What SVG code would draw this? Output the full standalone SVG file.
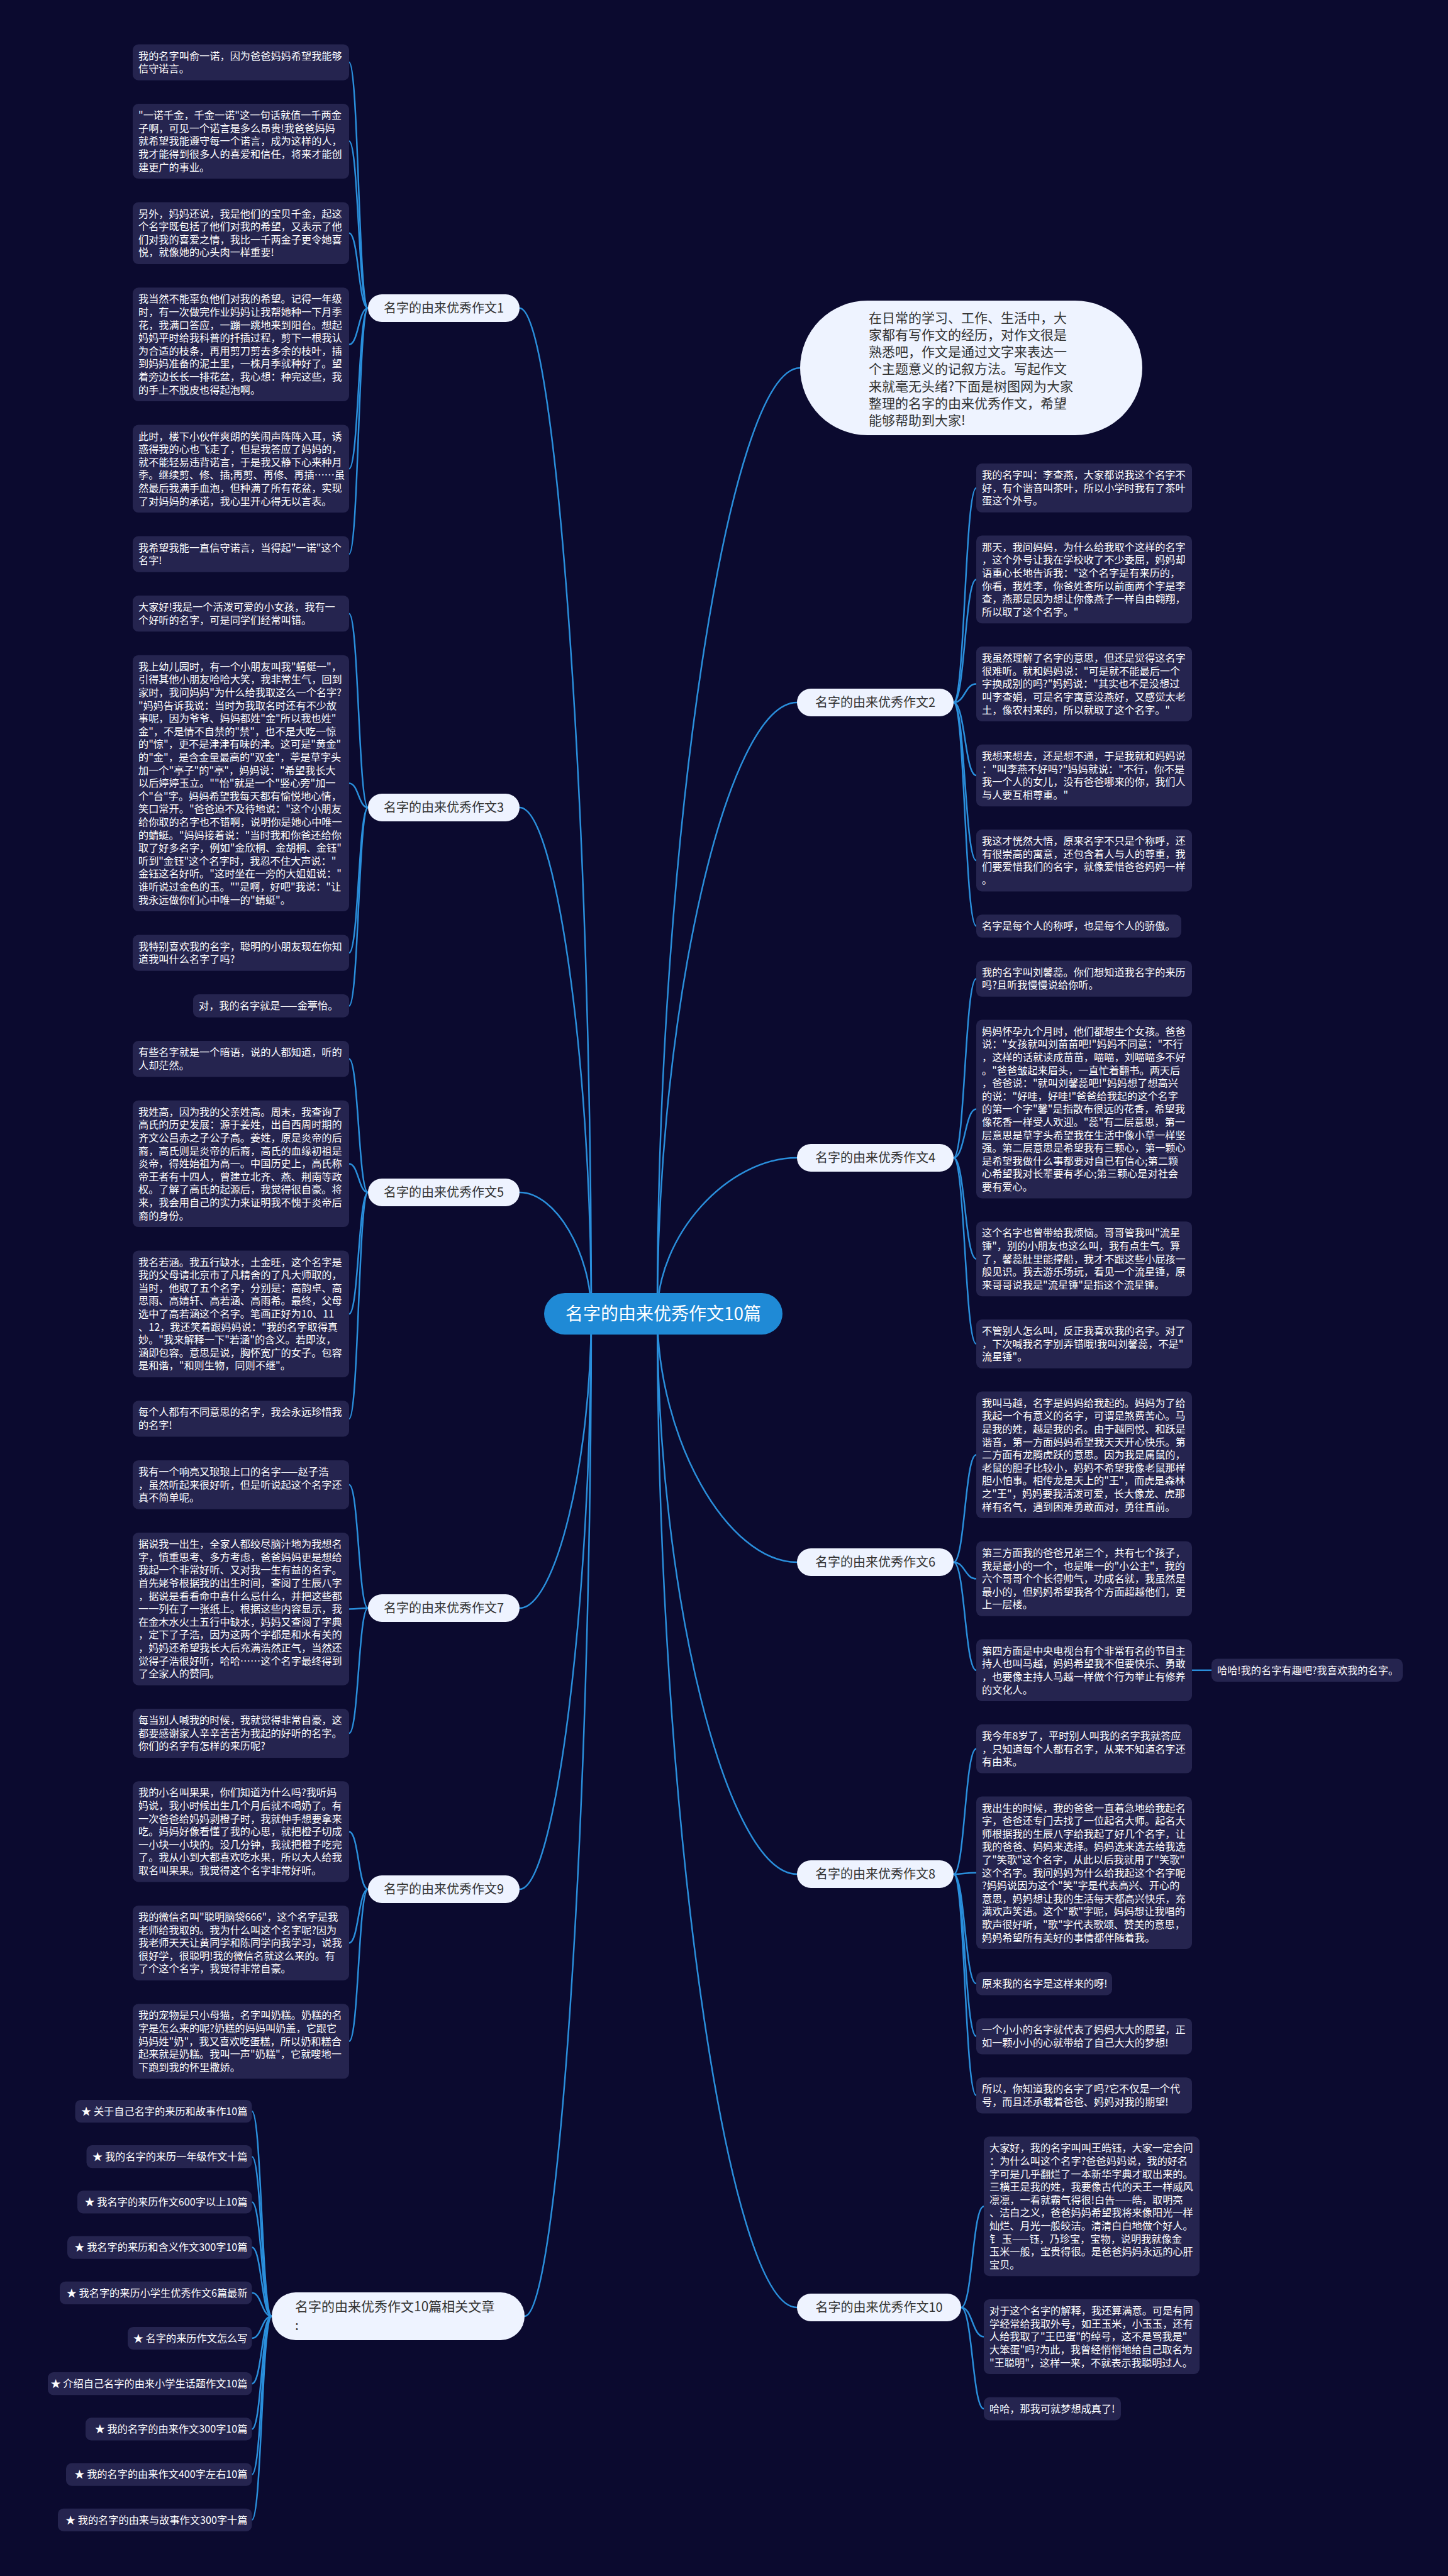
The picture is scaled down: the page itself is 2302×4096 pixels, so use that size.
<svg xmlns="http://www.w3.org/2000/svg" width="2302" height="4096" viewBox="0 0 2302 4096">
<style>
.box{fill:#25244f}
.t{font-family:"Noto Sans CJK SC","Microsoft YaHei",sans-serif;font-size:16.2px;fill:#ffffff}
.c{fill:none;stroke:#2a8fdc;stroke-width:2.5}
.pill{fill:#eef3ff}
.nt{font-family:"Noto Sans CJK SC","Microsoft YaHei",sans-serif;font-size:20px;fill:#333333;text-anchor:middle}
.it{font-family:"Noto Sans CJK SC","Microsoft YaHei",sans-serif;font-size:16.2px;fill:#ffffff;text-anchor:end}
</style>
<rect x="0" y="0" width="2302" height="4096" fill="#0b0a2f"/>
<g id="connectors">
<path class="c" d="M940,2089 C940,1289.5 883,490 826,490"/>
<path class="c" d="M940,2089 C940,1686.5 883,1284 826,1284"/>
<path class="c" d="M940,2089 C940,1992.5 883,1896 826,1896"/>
<path class="c" d="M940,2089 C940,2323 883,2557 826,2557"/>
<path class="c" d="M940,2089 C940,2546.5 883,3004 826,3004"/>
<path class="c" d="M940,2089 C940,2886 887,3683 834,3683"/>
<path class="c" d="M1045,2089 C1045,1337 1158.5,585 1272,585"/>
<path class="c" d="M1045,2089 C1045,1603 1156,1117 1267,1117"/>
<path class="c" d="M1045,2089 C1045,1965 1156,1841 1267,1841"/>
<path class="c" d="M1045,2089 C1045,2286.5 1156,2484 1267,2484"/>
<path class="c" d="M1045,2089 C1045,2534.5 1156,2980 1267,2980"/>
<path class="c" d="M1045,2089 C1045,2879 1156,3669 1267,3669"/>
<path class="c" d="M585,490 C570,490 570,99.1 555,99.1"/>
<path class="c" d="M585,490 C570,490 570,224.6 555,224.6"/>
<path class="c" d="M585,490 C570,490 570,370.7 555,370.7"/>
<path class="c" d="M585,490 C570,490 570,547.7 555,547.7"/>
<path class="c" d="M585,490 C570,490 570,745.3 555,745.3"/>
<path class="c" d="M585,490 C570,490 570,881.1 555,881.1"/>
<path class="c" d="M585,1284 C570,1284 570,975.7 555,975.7"/>
<path class="c" d="M585,1284 C570,1284 570,1245.4 555,1245.4"/>
<path class="c" d="M585,1284 C570,1284 570,1515.1 555,1515.1"/>
<path class="c" d="M585,1284 C570,1284 570,1599.4 555,1599.4"/>
<path class="c" d="M585,1896 C570,1896 570,1683.7 555,1683.7"/>
<path class="c" d="M585,1896 C570,1896 570,1850.4 555,1850.4"/>
<path class="c" d="M585,1896 C570,1896 570,2089.2 555,2089.2"/>
<path class="c" d="M585,1896 C570,1896 570,2255.9 555,2255.9"/>
<path class="c" d="M585,2557 C570,2557 570,2360.8 555,2360.8"/>
<path class="c" d="M585,2557 C570,2557 570,2558.4 555,2558.4"/>
<path class="c" d="M585,2557 C570,2557 570,2756 555,2756"/>
<path class="c" d="M585,3004 C570,3004 570,2912.4 555,2912.4"/>
<path class="c" d="M585,3004 C570,3004 570,3089.4 555,3089.4"/>
<path class="c" d="M585,3004 C570,3004 570,3245.8 555,3245.8"/>
<path class="c" d="M1516,1117 C1534,1117 1534,775.9 1552,775.9"/>
<path class="c" d="M1516,1117 C1534,1117 1534,921.4 1552,921.4"/>
<path class="c" d="M1516,1117 C1534,1117 1534,1087.5 1552,1087.5"/>
<path class="c" d="M1516,1117 C1534,1117 1534,1233 1552,1233"/>
<path class="c" d="M1516,1117 C1534,1117 1534,1368.2 1552,1368.2"/>
<path class="c" d="M1516,1117 C1534,1117 1534,1472.5 1552,1472.5"/>
<path class="c" d="M1516,1841 C1534,1841 1534,1556.2 1552,1556.2"/>
<path class="c" d="M1516,1841 C1534,1841 1534,1763.5 1552,1763.5"/>
<path class="c" d="M1516,1841 C1534,1841 1534,2001.7 1552,2001.7"/>
<path class="c" d="M1516,1841 C1534,1841 1534,2136.9 1552,2136.9"/>
<path class="c" d="M1516,2484 C1534,2484 1534,2313.3 1552,2313.3"/>
<path class="c" d="M1516,2484 C1534,2484 1534,2510.3 1552,2510.3"/>
<path class="c" d="M1516,2484 C1534,2484 1534,2655.8 1552,2655.8"/>
<path class="c" d="M1895,2655.8 L1926,2655.8"/>
<path class="c" d="M1516,2980 C1534,2980 1534,2780.7 1552,2780.7"/>
<path class="c" d="M1516,2980 C1534,2980 1534,2977.7 1552,2977.7"/>
<path class="c" d="M1516,2980 C1534,2980 1534,3154.1 1552,3154.1"/>
<path class="c" d="M1516,2980 C1534,2980 1534,3237.8 1552,3237.8"/>
<path class="c" d="M1516,2980 C1534,2980 1534,3331.8 1552,3331.8"/>
<path class="c" d="M1528,3669 C1546,3669 1546,3508.2 1564,3508.2"/>
<path class="c" d="M1528,3669 C1546,3669 1546,3715.5 1564,3715.5"/>
<path class="c" d="M1528,3669 C1546,3669 1546,3830.1 1564,3830.1"/>
<path class="c" d="M432,3683 C416,3683 416,3357 400.5,3357"/>
<path class="c" d="M432,3683 C416,3683 416,3429.2 400.5,3429.2"/>
<path class="c" d="M432,3683 C416,3683 416,3501.4 400.5,3501.4"/>
<path class="c" d="M432,3683 C416,3683 416,3573.6 400.5,3573.6"/>
<path class="c" d="M432,3683 C416,3683 416,3645.8 400.5,3645.8"/>
<path class="c" d="M432,3683 C416,3683 416,3718 400.5,3718"/>
<path class="c" d="M432,3683 C416,3683 416,3790.2 400.5,3790.2"/>
<path class="c" d="M432,3683 C416,3683 416,3862.4 400.5,3862.4"/>
<path class="c" d="M432,3683 C416,3683 416,3934.6 400.5,3934.6"/>
<path class="c" d="M432,3683 C416,3683 416,4006.8 400.5,4006.8"/>
</g>
<g id="root">
<rect x="865" y="2056" width="379" height="66" rx="33" fill="#1f8ad6"/>
<text x="1054.5" y="2099" font-family="Noto Sans CJK SC, sans-serif" font-size="28" fill="#ffffff" text-anchor="middle">名字的由来优秀作文10篇</text>
</g>
<g id="intro">
<rect x="1272" y="478" width="544" height="214" rx="107" class="pill"/>
<text font-family="Noto Sans CJK SC, sans-serif" font-size="21" fill="#333333" x="1381" y="512.5"><tspan x="1381" dy="0">在日常的学习、工作、生活中，大</tspan><tspan x="1381" dy="27.3">家都有写作文的经历，对作文很是</tspan><tspan x="1381" dy="27.3">熟悉吧，作文是通过文字来表达一</tspan><tspan x="1381" dy="27.3">个主题意义的记叙方法。写起作文</tspan><tspan x="1381" dy="27.3">来就毫无头绪?下面是树图网为大家</tspan><tspan x="1381" dy="27.3">整理的名字的由来优秀作文，希望</tspan><tspan x="1381" dy="27.3">能够帮助到大家!</tspan></text>
</g>
<g id="n1"><rect x="585" y="468" width="241" height="44" rx="22" class="pill"/><text class="nt" x="705.5" y="497">名字的由来优秀作文1</text></g>
<g id="n3"><rect x="585" y="1262" width="241" height="44" rx="22" class="pill"/><text class="nt" x="705.5" y="1291">名字的由来优秀作文3</text></g>
<g id="n5"><rect x="585" y="1874" width="241" height="44" rx="22" class="pill"/><text class="nt" x="705.5" y="1903">名字的由来优秀作文5</text></g>
<g id="n7"><rect x="585" y="2535" width="241" height="44" rx="22" class="pill"/><text class="nt" x="705.5" y="2564">名字的由来优秀作文7</text></g>
<g id="n9"><rect x="585" y="2982" width="241" height="44" rx="22" class="pill"/><text class="nt" x="705.5" y="3011">名字的由来优秀作文9</text></g>
<g id="n2"><rect x="1267" y="1095" width="249" height="44" rx="22" class="pill"/><text class="nt" x="1391.5" y="1124">名字的由来优秀作文2</text></g>
<g id="n4"><rect x="1267" y="1819" width="249" height="44" rx="22" class="pill"/><text class="nt" x="1391.5" y="1848">名字的由来优秀作文4</text></g>
<g id="n6"><rect x="1267" y="2462" width="249" height="44" rx="22" class="pill"/><text class="nt" x="1391.5" y="2491">名字的由来优秀作文6</text></g>
<g id="n8"><rect x="1267" y="2958" width="249" height="44" rx="22" class="pill"/><text class="nt" x="1391.5" y="2987">名字的由来优秀作文8</text></g>
<g id="n10"><rect x="1267" y="3647" width="261" height="44" rx="22" class="pill"/><text class="nt" x="1397.5" y="3676">名字的由来优秀作文10</text></g>
<g id="related"><rect x="432" y="3645" width="402" height="76" rx="38" class="pill"/><text font-family="Noto Sans CJK SC, sans-serif" font-size="21" fill="#333333" x="469" y="3675"><tspan x="469" dy="0">名字的由来优秀作文10篇相关文章</tspan><tspan x="469" dy="30">:</tspan></text></g>

<g id="l1a"><rect class="box" x="211" y="70.5" width="344" height="57.2" rx="9"/><text class="t" x="220" y="94.6"><tspan x="220" dy="0">我的名字叫俞一诺，因为爸爸妈妈希望我能够</tspan><tspan x="220" dy="20.6">信守诺言。</tspan></text></g>
<g id="l1b"><rect class="box" x="211" y="165.1" width="344" height="119" rx="9"/><text class="t" x="220" y="189.2"><tspan x="220" dy="0">"一诺千金，千金一诺"这一句话就值一千两金</tspan><tspan x="220" dy="20.6">子啊，可见一个诺言是多么昂贵!我爸爸妈妈</tspan><tspan x="220" dy="20.6">就希望我能遵守每一个诺言，成为这样的人，</tspan><tspan x="220" dy="20.6">我才能得到很多人的喜爱和信任，将来才能创</tspan><tspan x="220" dy="20.6">建更广的事业。</tspan></text></g>
<g id="l1c"><rect class="box" x="211" y="321.5" width="344" height="98.4" rx="9"/><text class="t" x="220" y="345.6"><tspan x="220" dy="0">另外，妈妈还说，我是他们的宝贝千金，起这</tspan><tspan x="220" dy="20.6">个名字既包括了他们对我的希望，又表示了他</tspan><tspan x="220" dy="20.6">们对我的喜爱之情，我比一千两金子更令她喜</tspan><tspan x="220" dy="20.6">悦，就像她的心头肉一样重要!</tspan></text></g>
<g id="l1d"><rect class="box" x="211" y="457.3" width="344" height="180.8" rx="9"/><text class="t" x="220" y="481.4"><tspan x="220" dy="0">我当然不能辜负他们对我的希望。记得一年级</tspan><tspan x="220" dy="20.6">时，有一次做完作业妈妈让我帮她种一下月季</tspan><tspan x="220" dy="20.6">花，我满口答应，一蹦一跳地来到阳台。想起</tspan><tspan x="220" dy="20.6">妈妈平时给我科普的扦插过程，剪下一根我认</tspan><tspan x="220" dy="20.6">为合适的枝条，再用剪刀剪去多余的枝叶，插</tspan><tspan x="220" dy="20.6">到妈妈准备的泥土里，一株月季就种好了。望</tspan><tspan x="220" dy="20.6">着旁边长长一排花盆，我心想：种完这些，我</tspan><tspan x="220" dy="20.6">的手上不脱皮也得起泡啊。</tspan></text></g>
<g id="l1e"><rect class="box" x="211" y="675.5" width="344" height="139.6" rx="9"/><text class="t" x="220" y="699.6"><tspan x="220" dy="0">此时，楼下小伙伴爽朗的笑闹声阵阵入耳，诱</tspan><tspan x="220" dy="20.6">惑得我的心也飞走了，但是我答应了妈妈的，</tspan><tspan x="220" dy="20.6">就不能轻易违背诺言，于是我又静下心来种月</tspan><tspan x="220" dy="20.6">季。继续剪、修、插;再剪、再修、再插……虽</tspan><tspan x="220" dy="20.6">然最后我满手血泡，但种满了所有花盆，实现</tspan><tspan x="220" dy="20.6">了对妈妈的承诺，我心里开心得无以言表。</tspan></text></g>
<g id="l1f"><rect class="box" x="211" y="852.5" width="344" height="57.2" rx="9"/><text class="t" x="220" y="876.6"><tspan x="220" dy="0">我希望我能一直信守诺言，当得起"一诺"这个</tspan><tspan x="220" dy="20.6">名字!</tspan></text></g>

<g id="l3a"><rect class="box" x="211" y="947.1" width="344" height="57.2" rx="9"/><text class="t" x="220" y="971.2"><tspan x="220" dy="0">大家好!我是一个活泼可爱的小女孩，我有一</tspan><tspan x="220" dy="20.6">个好听的名字，可是同学们经常叫错。</tspan></text></g>
<g id="l3b"><rect class="box" x="211" y="1041.7" width="344" height="407.4" rx="9"/><text class="t" x="220" y="1065.8"><tspan x="220" dy="0">我上幼儿园时，有一个小朋友叫我"蜻蜓一"，</tspan><tspan x="220" dy="20.6">引得其他小朋友哈哈大笑，我非常生气，回到</tspan><tspan x="220" dy="20.6">家时，我问妈妈"为什么给我取这么一个名字?</tspan><tspan x="220" dy="20.6">"妈妈告诉我说：当时为我取名时还有不少故</tspan><tspan x="220" dy="20.6">事呢，因为爷爷、妈妈都姓"金"所以我也姓"</tspan><tspan x="220" dy="20.6">金"，不是情不自禁的"禁"，也不是大吃一惊</tspan><tspan x="220" dy="20.6">的"惊"，更不是津津有味的津。这可是"黄金"</tspan><tspan x="220" dy="20.6">的"金"，是含金量最高的"双金"，葶是草字头</tspan><tspan x="220" dy="20.6">加一个"亭子"的"亭"，妈妈说："希望我长大</tspan><tspan x="220" dy="20.6">以后婷婷玉立。""怡"就是一个"竖心旁"加一</tspan><tspan x="220" dy="20.6">个"台"字。妈妈希望我每天都有愉悦地心情，</tspan><tspan x="220" dy="20.6">笑口常开。"爸爸迫不及待地说："这个小朋友</tspan><tspan x="220" dy="20.6">给你取的名字也不错啊，说明你是她心中唯一</tspan><tspan x="220" dy="20.6">的蜻蜓。"妈妈接着说："当时我和你爸还给你</tspan><tspan x="220" dy="20.6">取了好多名字，例如"金欣桐、金胡桐、金钰"</tspan><tspan x="220" dy="20.6">听到"金钰"这个名字时，我忍不住大声说："</tspan><tspan x="220" dy="20.6">金钰这名好听。"这时坐在一旁的大姐姐说："</tspan><tspan x="220" dy="20.6">谁听说过金色的玉。""是啊，好吧"我说："让</tspan><tspan x="220" dy="20.6">我永远做你们心中唯一的"蜻蜓"。</tspan></text></g>
<g id="l3c"><rect class="box" x="211" y="1486.5" width="344" height="57.2" rx="9"/><text class="t" x="220" y="1510.6"><tspan x="220" dy="0">我特别喜欢我的名字，聪明的小朋友现在你知</tspan><tspan x="220" dy="20.6">道我叫什么名字了吗?</tspan></text></g>
<g id="l3d"><rect class="box" x="307" y="1581.1" width="248" height="36.6" rx="9"/><text class="t" x="316" y="1605.2">对，我的名字就是——金葶怡。</text></g>

<g id="l5a"><rect class="box" x="211" y="1655.1" width="344" height="57.2" rx="9"/><text class="t" x="220" y="1679.2"><tspan x="220" dy="0">有些名字就是一个暗语，说的人都知道，听的</tspan><tspan x="220" dy="20.6">人却茫然。</tspan></text></g>
<g id="l5b"><rect class="box" x="211" y="1749.7" width="344" height="201.4" rx="9"/><text class="t" x="220" y="1773.8"><tspan x="220" dy="0">我姓高，因为我的父亲姓高。周末，我查询了</tspan><tspan x="220" dy="20.6">高氏的历史发展：源于姜姓，出自西周时期的</tspan><tspan x="220" dy="20.6">齐文公吕赤之子公子高。姜姓，原是炎帝的后</tspan><tspan x="220" dy="20.6">裔，高氏则是炎帝的后裔，高氏的血缘初祖是</tspan><tspan x="220" dy="20.6">炎帝，得姓始祖为高一。中国历史上，高氏称</tspan><tspan x="220" dy="20.6">帝王者有十四人，曾建立北齐、燕、荆南等政</tspan><tspan x="220" dy="20.6">权。了解了高氏的起源后，我觉得很自豪。将</tspan><tspan x="220" dy="20.6">来，我会用自己的实力来证明我不愧于炎帝后</tspan><tspan x="220" dy="20.6">裔的身份。</tspan></text></g>
<g id="l5c"><rect class="box" x="211" y="1988.5" width="344" height="201.4" rx="9"/><text class="t" x="220" y="2012.6"><tspan x="220" dy="0">我名若涵。我五行缺水，土金旺，这个名字是</tspan><tspan x="220" dy="20.6">我的父母请北京市了凡精舍的了凡大师取的，</tspan><tspan x="220" dy="20.6">当时，他取了五个名字，分别是：高韵卓、高</tspan><tspan x="220" dy="20.6">思雨、高婧轩、高若涵、高雨希。最终，父母</tspan><tspan x="220" dy="20.6">选中了高若涵这个名字。笔画正好为10、11</tspan><tspan x="220" dy="20.6">、12，我还笑着跟妈妈说："我的名字取得真</tspan><tspan x="220" dy="20.6">妙。"我来解释一下"若涵"的含义。若即汝，</tspan><tspan x="220" dy="20.6">涵即包容。意思是说，胸怀宽广的女子。包容</tspan><tspan x="220" dy="20.6">是和谐，"和则生物，同则不继"。</tspan></text></g>
<g id="l5d"><rect class="box" x="211" y="2227.3" width="344" height="57.2" rx="9"/><text class="t" x="220" y="2251.4"><tspan x="220" dy="0">每个人都有不同意思的名字，我会永远珍惜我</tspan><tspan x="220" dy="20.6">的名字!</tspan></text></g>

<g id="l7a"><rect class="box" x="211" y="2321.9" width="344" height="77.8" rx="9"/><text class="t" x="220" y="2346"><tspan x="220" dy="0">我有一个响亮又琅琅上口的名字——赵子浩</tspan><tspan x="220" dy="20.6">，虽然听起来很好听，但是听说起这个名字还</tspan><tspan x="220" dy="20.6">真不简单呢。</tspan></text></g>
<g id="l7b"><rect class="box" x="211" y="2437.1" width="344" height="242.6" rx="9"/><text class="t" x="220" y="2461.2"><tspan x="220" dy="0">据说我一出生，全家人都绞尽脑汁地为我想名</tspan><tspan x="220" dy="20.6">字，慎重思考、多方考虑，爸爸妈妈更是想给</tspan><tspan x="220" dy="20.6">我起一个非常好听、又对我一生有益的名字。</tspan><tspan x="220" dy="20.6">首先姥爷根据我的出生时间，查阅了生辰八字</tspan><tspan x="220" dy="20.6">，据说是看看命中喜什么忌什么，并把这些都</tspan><tspan x="220" dy="20.6">一一列在了一张纸上。根据这些内容显示，我</tspan><tspan x="220" dy="20.6">在金木水火土五行中缺水，妈妈又查阅了字典</tspan><tspan x="220" dy="20.6">，定下了子浩，因为这两个字都是和水有关的</tspan><tspan x="220" dy="20.6">，妈妈还希望我长大后充满浩然正气，当然还</tspan><tspan x="220" dy="20.6">觉得子浩很好听，哈哈……这个名字最终得到</tspan><tspan x="220" dy="20.6">了全家人的赞同。</tspan></text></g>
<g id="l7c"><rect class="box" x="211" y="2717.1" width="344" height="77.8" rx="9"/><text class="t" x="220" y="2741.2"><tspan x="220" dy="0">每当别人喊我的时候，我就觉得非常自豪，这</tspan><tspan x="220" dy="20.6">都要感谢家人辛辛苦苦为我起的好听的名字。</tspan><tspan x="220" dy="20.6">你们的名字有怎样的来历呢?</tspan></text></g>

<g id="l9a"><rect class="box" x="211" y="2832.3" width="344" height="160.2" rx="9"/><text class="t" x="220" y="2856.4"><tspan x="220" dy="0">我的小名叫果果，你们知道为什么吗?我听妈</tspan><tspan x="220" dy="20.6">妈说，我小时候出生几个月后就不喝奶了。有</tspan><tspan x="220" dy="20.6">一次爸爸给妈妈剥橙子时，我就伸手想要拿来</tspan><tspan x="220" dy="20.6">吃。妈妈好像看懂了我的心思，就把橙子切成</tspan><tspan x="220" dy="20.6">一小块一小块的。没几分钟，我就把橙子吃完</tspan><tspan x="220" dy="20.6">了。我从小到大都喜欢吃水果，所以大人给我</tspan><tspan x="220" dy="20.6">取名叫果果。我觉得这个名字非常好听。</tspan></text></g>
<g id="l9b"><rect class="box" x="211" y="3029.9" width="344" height="119" rx="9"/><text class="t" x="220" y="3054"><tspan x="220" dy="0">我的微信名叫"聪明脑袋666"，这个名字是我</tspan><tspan x="220" dy="20.6">老师给我取的。我为什么叫这个名字呢?因为</tspan><tspan x="220" dy="20.6">我老师天天让黄同学和陈同学向我学习，说我</tspan><tspan x="220" dy="20.6">很好学，很聪明!我的微信名就这么来的。有</tspan><tspan x="220" dy="20.6">了个这个名字，我觉得非常自豪。</tspan></text></g>
<g id="l9c"><rect class="box" x="211" y="3186.3" width="344" height="119" rx="9"/><text class="t" x="220" y="3210.4"><tspan x="220" dy="0">我的宠物是只小母猫，名字叫奶糕。奶糕的名</tspan><tspan x="220" dy="20.6">字是怎么来的呢?奶糕的妈妈叫奶盖，它跟它</tspan><tspan x="220" dy="20.6">妈妈姓"奶"，我又喜欢吃蛋糕，所以奶和糕合</tspan><tspan x="220" dy="20.6">起来就是奶糕。我叫一声"奶糕"，它就嗖地一</tspan><tspan x="220" dy="20.6">下跑到我的怀里撒娇。</tspan></text></g>

<g id="r2a"><rect class="box" x="1552" y="737" width="343" height="77.8" rx="9"/><text class="t" x="1561" y="761.1"><tspan x="1561" dy="0">我的名字叫：李查燕，大家都说我这个名字不</tspan><tspan x="1561" dy="20.6">好，有个谐音叫茶叶，所以小学时我有了茶叶</tspan><tspan x="1561" dy="20.6">蛋这个外号。</tspan></text></g>
<g id="r2b"><rect class="box" x="1552" y="851.6" width="343" height="139.6" rx="9"/><text class="t" x="1561" y="875.7"><tspan x="1561" dy="0">那天，我问妈妈，为什么给我取个这样的名字</tspan><tspan x="1561" dy="20.6">，这个外号让我在学校收了不少委屈，妈妈却</tspan><tspan x="1561" dy="20.6">语重心长地告诉我："这个名字是有来历的，</tspan><tspan x="1561" dy="20.6">你看，我姓李，你爸姓查所以前面两个字是李</tspan><tspan x="1561" dy="20.6">查，燕那是因为想让你像燕子一样自由翱翔，</tspan><tspan x="1561" dy="20.6">所以取了这个名字。"</tspan></text></g>
<g id="r2c"><rect class="box" x="1552" y="1028" width="343" height="119" rx="9"/><text class="t" x="1561" y="1052.1"><tspan x="1561" dy="0">我虽然理解了名字的意思，但还是觉得这名字</tspan><tspan x="1561" dy="20.6">很难听。就和妈妈说："可是就不能最后一个</tspan><tspan x="1561" dy="20.6">字换成别的吗?"妈妈说："其实也不是没想过</tspan><tspan x="1561" dy="20.6">叫李查娟，可是名字寓意没燕好，又感觉太老</tspan><tspan x="1561" dy="20.6">土，像农村来的，所以就取了这个名字。"</tspan></text></g>
<g id="r2d"><rect class="box" x="1552" y="1183.8" width="343" height="98.4" rx="9"/><text class="t" x="1561" y="1207.9"><tspan x="1561" dy="0">我想来想去，还是想不通，于是我就和妈妈说</tspan><tspan x="1561" dy="20.6">："叫李燕不好吗?"妈妈就说："不行，你不是</tspan><tspan x="1561" dy="20.6">我一个人的女儿，没有爸爸哪来的你，我们人</tspan><tspan x="1561" dy="20.6">与人要互相尊重。"</tspan></text></g>
<g id="r2e"><rect class="box" x="1552" y="1319" width="343" height="98.4" rx="9"/><text class="t" x="1561" y="1343.1"><tspan x="1561" dy="0">我这才恍然大悟，原来名字不只是个称呼，还</tspan><tspan x="1561" dy="20.6">有很崇高的寓意，还包含着人与人的尊重，我</tspan><tspan x="1561" dy="20.6">们要爱惜我们的名字，就像爱惜爸爸妈妈一样</tspan><tspan x="1561" dy="20.6">。</tspan></text></g>
<g id="r2f"><rect class="box" x="1552" y="1454.2" width="326" height="36.6" rx="9"/><text class="t" x="1561" y="1478.3">名字是每个人的称呼，也是每个人的骄傲。</text></g>

<g id="r4a"><rect class="box" x="1552" y="1527.6" width="343" height="57.2" rx="9"/><text class="t" x="1561" y="1551.7"><tspan x="1561" dy="0">我的名字叫刘馨蕊。你们想知道我名字的来历</tspan><tspan x="1561" dy="20.6">吗?且听我慢慢说给你听。</tspan></text></g>
<g id="r4b"><rect class="box" x="1552" y="1621.6" width="343" height="283.8" rx="9"/><text class="t" x="1561" y="1645.7"><tspan x="1561" dy="0">妈妈怀孕九个月时，他们都想生个女孩。爸爸</tspan><tspan x="1561" dy="20.6">说："女孩就叫刘苗苗吧!"妈妈不同意："不行</tspan><tspan x="1561" dy="20.6">，这样的话就读成苗苗，喵喵，刘喵喵多不好</tspan><tspan x="1561" dy="20.6">。"爸爸皱起来眉头，一直忙着翻书。两天后</tspan><tspan x="1561" dy="20.6">，爸爸说："就叫刘馨蕊吧!"妈妈想了想高兴</tspan><tspan x="1561" dy="20.6">的说："好哇，好哇!"爸爸给我起的这个名字</tspan><tspan x="1561" dy="20.6">的第一个字"馨"是指散布很远的花香，希望我</tspan><tspan x="1561" dy="20.6">像花香一样受人欢迎。"蕊"有二层意思，第一</tspan><tspan x="1561" dy="20.6">层意思是草字头希望我在生活中像小草一样坚</tspan><tspan x="1561" dy="20.6">强。第二层意思是希望我有三颗心，第一颗心</tspan><tspan x="1561" dy="20.6">是希望我做什么事都要对自已有信心;第二颗</tspan><tspan x="1561" dy="20.6">心希望我对长辈要有孝心;第三颗心是对社会</tspan><tspan x="1561" dy="20.6">要有爱心。</tspan></text></g>
<g id="r4c"><rect class="box" x="1552" y="1942.2" width="343" height="119" rx="9"/><text class="t" x="1561" y="1966.3"><tspan x="1561" dy="0">这个名字也曾带给我烦恼。哥哥管我叫"流星</tspan><tspan x="1561" dy="20.6">锤"，别的小朋友也这么叫，我有点生气。算</tspan><tspan x="1561" dy="20.6">了，馨蕊肚里能撑船，我才不跟这些小屁孩一</tspan><tspan x="1561" dy="20.6">般见识。我去游乐场玩，看见一个流星锤，原</tspan><tspan x="1561" dy="20.6">来哥哥说我是"流星锤"是指这个流星锤。</tspan></text></g>
<g id="r4d"><rect class="box" x="1552" y="2098" width="343" height="77.8" rx="9"/><text class="t" x="1561" y="2122.1"><tspan x="1561" dy="0">不管别人怎么叫，反正我喜欢我的名字。对了</tspan><tspan x="1561" dy="20.6">，下次喊我名字别弄错哦!我叫刘馨蕊，不是"</tspan><tspan x="1561" dy="20.6">流星锤"。</tspan></text></g>

<g id="r6a"><rect class="box" x="1552" y="2212.6" width="343" height="201.4" rx="9"/><text class="t" x="1561" y="2236.7"><tspan x="1561" dy="0">我叫马越，名字是妈妈给我起的。妈妈为了给</tspan><tspan x="1561" dy="20.6">我起一个有意义的名字，可谓是煞费苦心。马</tspan><tspan x="1561" dy="20.6">是我的姓，越是我的名。由于越同悦、和跃是</tspan><tspan x="1561" dy="20.6">谐音，第一方面妈妈希望我天天开心快乐。第</tspan><tspan x="1561" dy="20.6">二方面有龙腾虎跃的意思。因为我是属鼠的，</tspan><tspan x="1561" dy="20.6">老鼠的胆子比较小，妈妈不希望我像老鼠那样</tspan><tspan x="1561" dy="20.6">胆小怕事。相传龙是天上的"王"，而虎是森林</tspan><tspan x="1561" dy="20.6">之"王"，妈妈要我活泼可爱，长大像龙、虎那</tspan><tspan x="1561" dy="20.6">样有名气，遇到困难勇敢面对，勇往直前。</tspan></text></g>
<g id="r6b"><rect class="box" x="1552" y="2450.8" width="343" height="119" rx="9"/><text class="t" x="1561" y="2474.9"><tspan x="1561" dy="0">第三方面我的爸爸兄弟三个，共有七个孩子，</tspan><tspan x="1561" dy="20.6">我是最小的一个，也是唯一的"小公主"，我的</tspan><tspan x="1561" dy="20.6">六个哥哥个个长得帅气，功成名就，我虽然是</tspan><tspan x="1561" dy="20.6">最小的，但妈妈希望我各个方面超越他们，更</tspan><tspan x="1561" dy="20.6">上一层楼。</tspan></text></g>
<g id="r6c"><rect class="box" x="1552" y="2606.6" width="343" height="98.4" rx="9"/><text class="t" x="1561" y="2630.7"><tspan x="1561" dy="0">第四方面是中央电视台有个非常有名的节目主</tspan><tspan x="1561" dy="20.6">持人也叫马越，妈妈希望我不但要快乐、勇敢</tspan><tspan x="1561" dy="20.6">，也要像主持人马越一样做个行为举止有修养</tspan><tspan x="1561" dy="20.6">的文化人。</tspan></text></g>
<g id="r6note"><rect class="box" x="1926" y="2637.5" width="304" height="36.6" rx="9"/><text class="t" x="1935" y="2661.6">哈哈!我的名字有趣吧?我喜欢我的名字。</text></g>

<g id="r8a"><rect class="box" x="1552" y="2741.8" width="343" height="77.8" rx="9"/><text class="t" x="1561" y="2765.9"><tspan x="1561" dy="0">我今年8岁了，平时别人叫我的名字我就答应</tspan><tspan x="1561" dy="20.6">，只知道每个人都有名字，从来不知道名字还</tspan><tspan x="1561" dy="20.6">有由来。</tspan></text></g>
<g id="r8b"><rect class="box" x="1552" y="2856.4" width="343" height="242.6" rx="9"/><text class="t" x="1561" y="2880.5"><tspan x="1561" dy="0">我出生的时候，我的爸爸一直着急地给我起名</tspan><tspan x="1561" dy="20.6">字，爸爸还专门去找了一位起名大师。起名大</tspan><tspan x="1561" dy="20.6">师根据我的生辰八字给我起了好几个名字，让</tspan><tspan x="1561" dy="20.6">我的爸爸、妈妈来选择。妈妈选来选去给我选</tspan><tspan x="1561" dy="20.6">了"笑歌"这个名字，从此以后我就用了"笑歌"</tspan><tspan x="1561" dy="20.6">这个名字。我问妈妈为什么给我起这个名字呢</tspan><tspan x="1561" dy="20.6">?妈妈说因为这个"笑"字是代表高兴、开心的</tspan><tspan x="1561" dy="20.6">意思，妈妈想让我的生活每天都高兴快乐，充</tspan><tspan x="1561" dy="20.6">满欢声笑语。这个"歌"字呢，妈妈想让我唱的</tspan><tspan x="1561" dy="20.6">歌声很好听，"歌"字代表歌颂、赞美的意思，</tspan><tspan x="1561" dy="20.6">妈妈希望所有美好的事情都伴随着我。</tspan></text></g>
<g id="r8c"><rect class="box" x="1552" y="3135.8" width="216" height="36.6" rx="9"/><text class="t" x="1561" y="3159.9">原来我的名字是这样来的呀!</text></g>
<g id="r8d"><rect class="box" x="1552" y="3209.2" width="343" height="57.2" rx="9"/><text class="t" x="1561" y="3233.3"><tspan x="1561" dy="0">一个小小的名字就代表了妈妈大大的愿望，正</tspan><tspan x="1561" dy="20.6">如一颗小小的心就带给了自己大大的梦想!</tspan></text></g>
<g id="r8e"><rect class="box" x="1552" y="3303.2" width="343" height="57.2" rx="9"/><text class="t" x="1561" y="3327.3"><tspan x="1561" dy="0">所以，你知道我的名字了吗?它不仅是一个代</tspan><tspan x="1561" dy="20.6">号，而且还承载着爸爸、妈妈对我的期望!</tspan></text></g>

<g id="r10a"><rect class="box" x="1564" y="3397.2" width="343" height="222" rx="9"/><text class="t" x="1573" y="3421.3"><tspan x="1573" dy="0">大家好，我的名字叫叫王皓钰，大家一定会问</tspan><tspan x="1573" dy="20.6">：为什么叫这个名字?爸爸妈妈说，我的好名</tspan><tspan x="1573" dy="20.6">字可是几乎翻烂了一本新华字典才取出来的。</tspan><tspan x="1573" dy="20.6">三横王是我的姓，我要像古代的天王一样威风</tspan><tspan x="1573" dy="20.6">凛凛，一看就霸气得很!白告——皓，取明亮</tspan><tspan x="1573" dy="20.6">、洁白之义，爸爸妈妈希望我将来像阳光一样</tspan><tspan x="1573" dy="20.6">灿烂、月光一般皎洁。清清白白地做个好人。</tspan><tspan x="1573" dy="20.6">钅 玉——钰，乃珍宝，宝物，说明我就像金</tspan><tspan x="1573" dy="20.6">玉米一般，宝贵得很。是爸爸妈妈永远的心肝</tspan><tspan x="1573" dy="20.6">宝贝。</tspan></text></g>
<g id="r10b"><rect class="box" x="1564" y="3656" width="343" height="119" rx="9"/><text class="t" x="1573" y="3680.1"><tspan x="1573" dy="0">对于这个名字的解释，我还算满意。可是有同</tspan><tspan x="1573" dy="20.6">学经常给我取外号，如王玉米，小玉玉，还有</tspan><tspan x="1573" dy="20.6">人给我取了"王巴蛋"的绰号，这不是骂我是"</tspan><tspan x="1573" dy="20.6">大笨蛋"吗?为此，我曾经悄悄地给自己取名为</tspan><tspan x="1573" dy="20.6">"王聪明"，这样一来，不就表示我聪明过人。</tspan></text></g>
<g id="r10c"><rect class="box" x="1564" y="3811.8" width="218" height="36.6" rx="9"/><text class="t" x="1573" y="3835.9">哈哈，那我可就梦想成真了!</text></g>

<g id="i1"><rect class="box" x="119.5" y="3338.9" width="281" height="36.2" rx="9"/><text class="it" x="393.5" y="3362.8">★ 关于自己名字的来历和故事作10篇</text></g>
<g id="i2"><rect class="box" x="137.5" y="3411.1" width="263" height="36.2" rx="9"/><text class="it" x="393.5" y="3435">★ 我的名字的来历一年级作文十篇</text></g>
<g id="i3"><rect class="box" x="123" y="3483.3" width="277.5" height="36.2" rx="9"/><text class="it" x="393.5" y="3507.2">★ 我名字的来历作文600字以上10篇</text></g>
<g id="i4"><rect class="box" x="107" y="3555.5" width="293.5" height="36.2" rx="9"/><text class="it" x="393.5" y="3579.4">★ 我名字的来历和含义作文300字10篇</text></g>
<g id="i5"><rect class="box" x="95" y="3627.7" width="305.5" height="36.2" rx="9"/><text class="it" x="393.5" y="3651.6">★ 我名字的来历小学生优秀作文6篇最新</text></g>
<g id="i6"><rect class="box" x="203" y="3699.9" width="197.5" height="36.2" rx="9"/><text class="it" x="393.5" y="3723.8">★ 名字的来历作文怎么写</text></g>
<g id="i7"><rect class="box" x="76" y="3772.1" width="324.5" height="36.2" rx="9"/><text class="it" x="393.5" y="3796">★ 介绍自己名字的由来小学生话题作文10篇</text></g>
<g id="i8"><rect class="box" x="136" y="3844.3" width="264.5" height="36.2" rx="9"/><text class="it" x="393.5" y="3868.2">★ 我的名字的由来作文300字10篇</text></g>
<g id="i9"><rect class="box" x="105" y="3916.5" width="295.5" height="36.2" rx="9"/><text class="it" x="393.5" y="3940.4">★ 我的名字的由来作文400字左右10篇</text></g>
<g id="i10"><rect class="box" x="92" y="3988.7" width="308.5" height="36.2" rx="9"/><text class="it" x="393.5" y="4012.6">★ 我的名字的由来与故事作文300字十篇</text></g>
</svg>
